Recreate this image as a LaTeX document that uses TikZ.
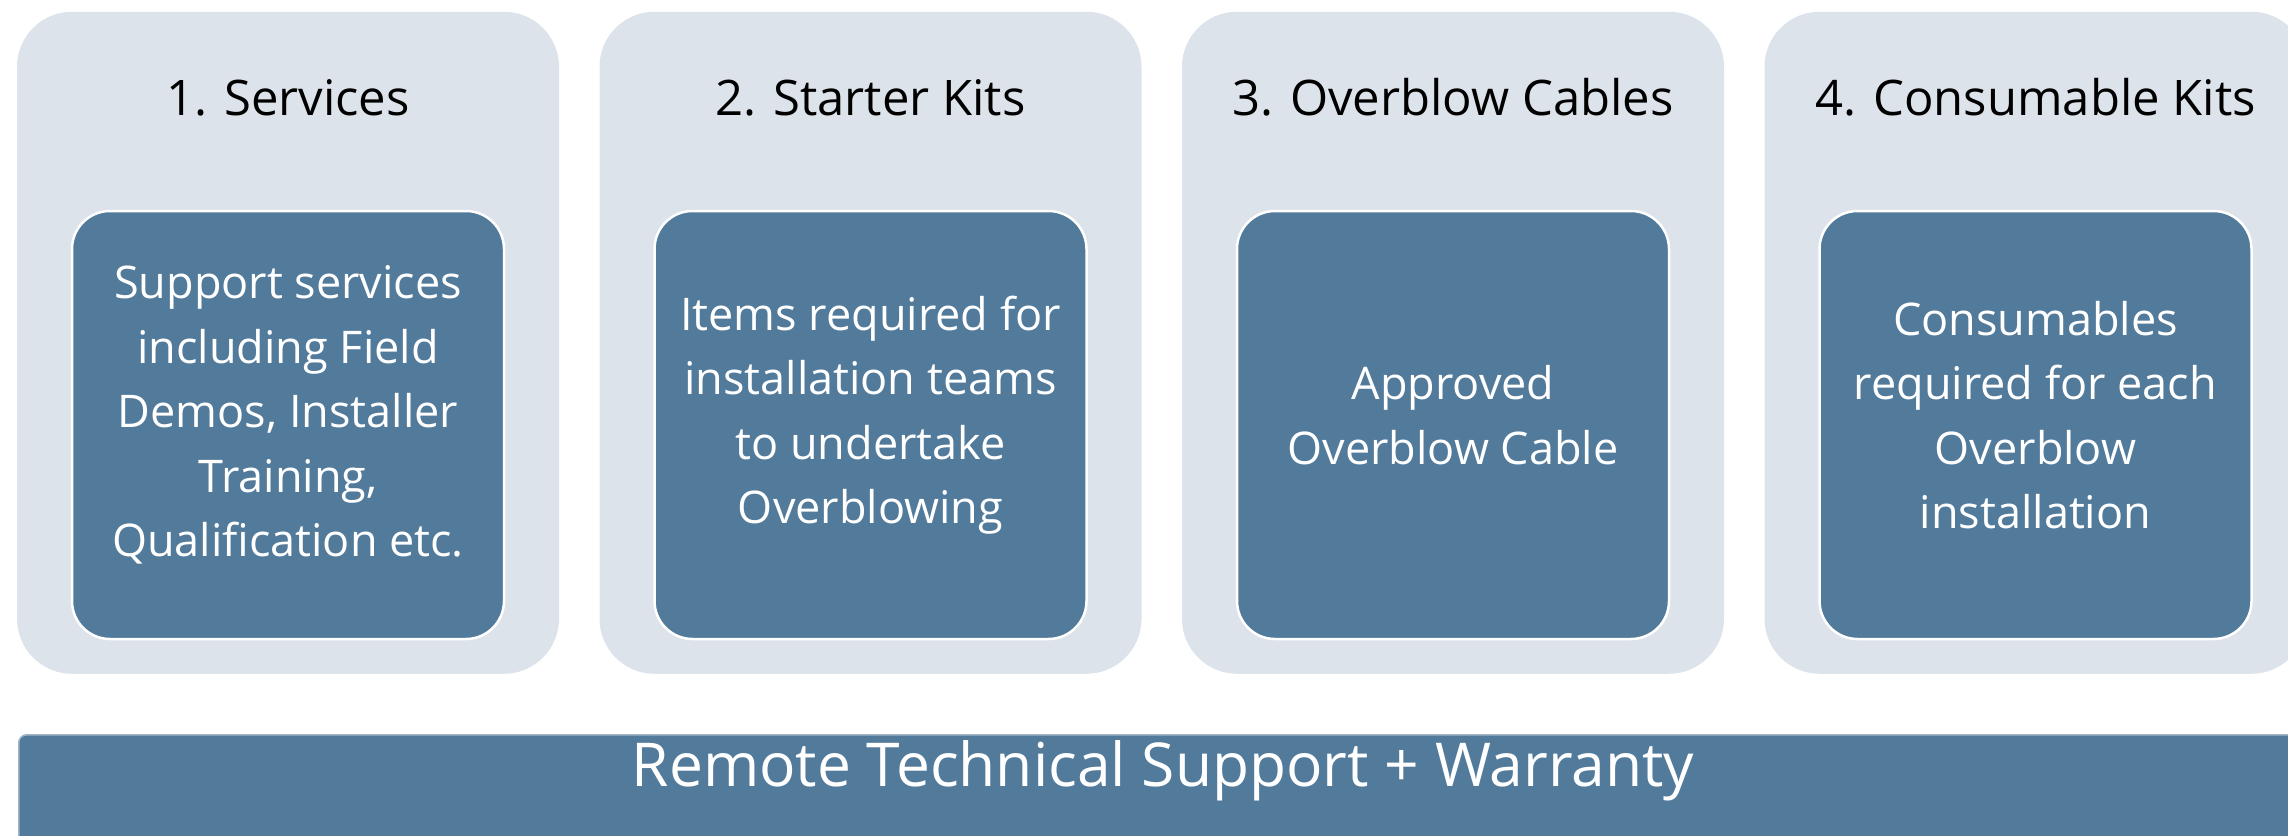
\documentclass[tikz,border=0pt]{standalone}
\usepackage{fontspec}
\setmainfont{Open Sans}
\definecolor{cardgrey}{HTML}{DCE3EA}
\definecolor{steelblue}{HTML}{527A9B}
\tikzset{
  cardbox/.style={fill=cardgrey, rounded corners=55pt, minimum width=542pt, minimum height=662pt, inner sep=0pt},
  innerbox/.style={fill=steelblue, draw=white, line width=2.5pt, rounded corners=38pt, minimum width=432pt, minimum height=428pt, inner sep=0pt},
  cardtitle/.style={anchor=base, font=\fontsize{49}{60}\selectfont},
  innertext/.style={text=white, align=center, font=\fontsize{45}{64.5}\selectfont},
  supportbar/.style={fill=steelblue, draw=steelblue!55!white, line width=1.5pt, rounded corners=8pt, minimum width=2290pt, minimum height=130pt, inner sep=0pt}
}
\begin{document}
\begin{tikzpicture}[x=1pt,y=-1pt]
    \useasboundingbox (0,0) rectangle (2288,835);
    \clip (0,0) rectangle (2288,835);
    \foreach \i/\head/\body in {1/{1. Services}/{Support services\\including Field\\Demos, Installer\\Training,\\Qualification etc.},
        2/{2. Starter Kits}/{Items required for\\installation teams\\to undertake\\Overblowing},
        3/{3. Overblow Cables}/{Approved\\Overblow Cable},
        4/{4. Consumable Kits}/{Consumables\\required for each\\Overblow\\installation}} {
        \node[cardbox] (card\i) at ({288+582.5*(\i-1)},342.75) {};
        \node[cardtitle] (head\i) at ({288+582.5*(\i-1)},115) {\head};
        \node[innerbox] (box\i) at ({288+582.5*(\i-1)},425) {};
        \node[innertext] (body\i) at ([yshift=10pt]box\i.center) {\body};
    }
    \node[supportbar, anchor=north west] (bar) at (18,734) {};
    \node[anchor=base, text=white, font=\fontsize{60.5}{70}\selectfont] (bartext) at (1163,786) {Remote Technical Support + Warranty};
\end{tikzpicture}
\end{document}
